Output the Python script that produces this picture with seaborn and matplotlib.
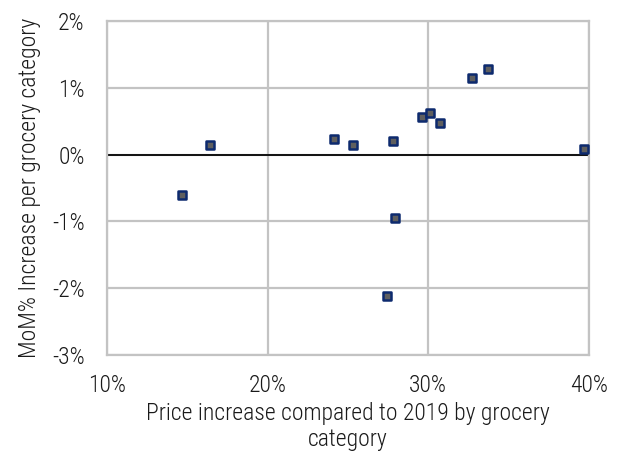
import matplotlib
matplotlib.use("Agg")
import matplotlib.pyplot as plt
from matplotlib.ticker import PercentFormatter
import seaborn as sns
import pandas as pd

# Price increase vs. 2019 (%) and month-over-month change (%) per grocery category
price_increase_2019 = [14.7, 16.4, 24.1, 25.3, 27.8, 29.6, 30.1, 30.7, 32.7, 33.7, 39.7, 27.9, 27.4]
mom_increase = [-0.61, 0.15, 0.24, 0.15, 0.21, 0.56, 0.62, 0.47, 1.15, 1.28, 0.08, -0.95, -2.12]

x_ticks = [10, 20, 30, 40]
y_ticks = [-3, -2, -1, 0, 1, 2]

df = pd.DataFrame({"price": price_increase_2019, "mom": mom_increase})

sns.set_style("white")
plt.rcParams["font.family"] = ["Roboto Condensed", "DejaVu Sans"]
plt.rcParams["font.weight"] = "light"
plt.rcParams["axes.labelweight"] = "light"
plt.rcParams["axes.unicode_minus"] = False

fig, ax = plt.subplots(figsize=(6.23, 4.55), dpi=100)
fig.subplots_adjust(left=0.1717, right=0.9454, top=0.9538, bottom=0.2198)

ax.set_xlim(10, 40)
ax.set_ylim(-3, 2)
ax.set_xticks(x_ticks)
ax.set_yticks(y_ticks)
ax.xaxis.set_major_formatter(PercentFormatter(decimals=0))
ax.yaxis.set_major_formatter(PercentFormatter(decimals=0))

ax.grid(True, color="#c3c3c3", linewidth=1.6)
ax.set_axisbelow(True)
for s in ax.spines.values():
    s.set_color("#c3c3c3")
    s.set_linewidth(1.6)

ax.axhline(0, color="#111111", linewidth=1.4, zorder=2)

sns.scatterplot(data=df, x="price", y="mom", ax=ax, marker="s", s=40,
                color="#5f5f5f", edgecolor="#0d2a6e", linewidth=1.8, zorder=3)

text_color = "#1a1a1a"
ax.tick_params(axis="x", length=0, labelsize=17, colors=text_color, pad=14)
ax.tick_params(axis="y", length=0, labelsize=17, colors=text_color, pad=16)
ax.set_xlabel("Price increase compared to 2019 by grocery\ncategory",
              fontsize=17, fontweight="light", color=text_color, labelpad=3)
ax.set_ylabel("MoM% Increase per grocery category", fontsize=17,
              fontweight="light", color=text_color, labelpad=8)

fig.savefig("out.png", dpi=100)
